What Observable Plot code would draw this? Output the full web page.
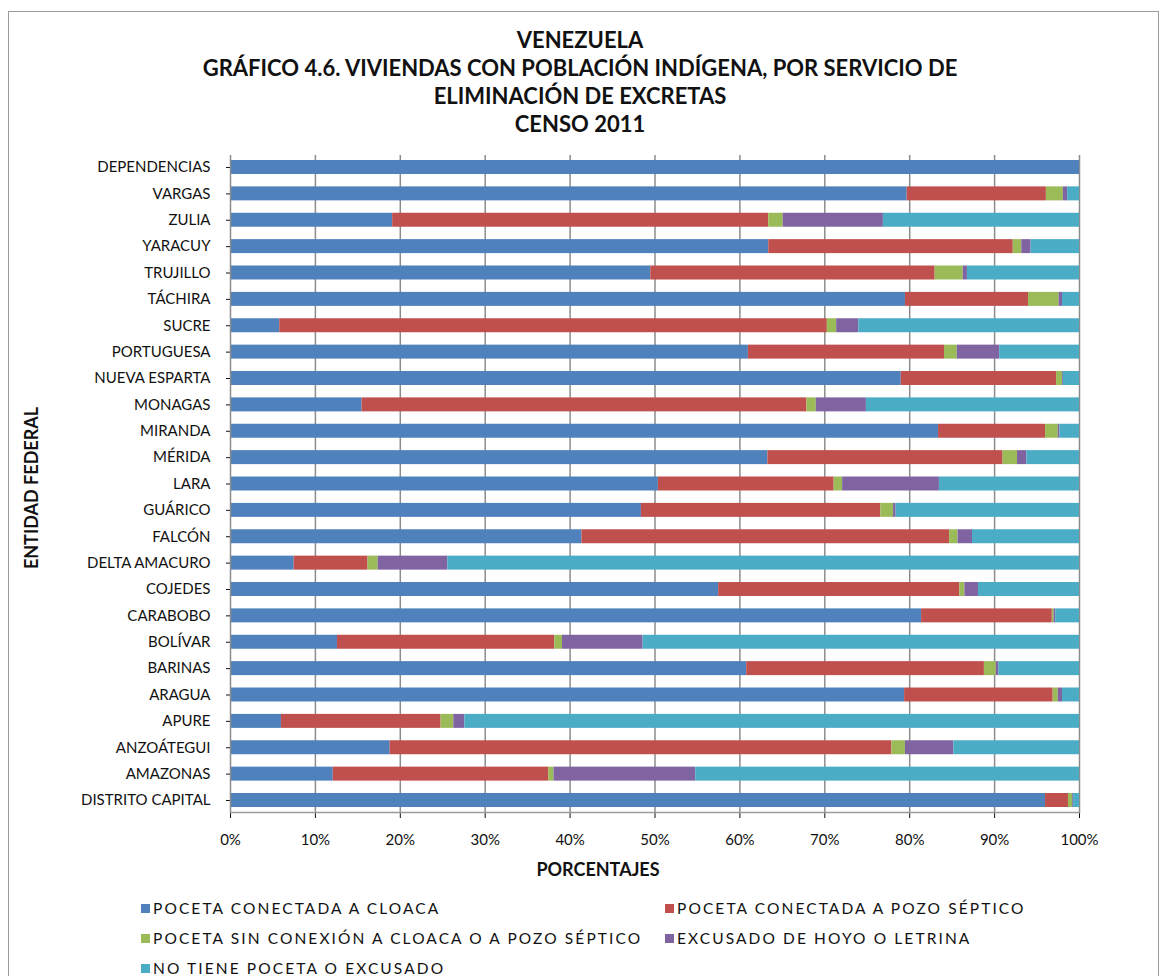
<!DOCTYPE html>
<html>
<head>
<meta charset="utf-8">
<script src="https://cdn.jsdelivr.net/npm/d3@7"></script>
<script src="https://cdn.jsdelivr.net/npm/@observablehq/plot@0.6"></script>
<style>
  html, body { margin: 0; padding: 0; background: #fff; }
  body { width: 1163px; height: 976px; position: relative; overflow: hidden; font-family: Lato, "Open Sans", sans-serif; color: #111; }
  #frame { position: absolute; left: 8px; top: 11px; width: 1151px; height: 1000px; border: 1px solid #9a9a9a; box-sizing: border-box; }
  #title { position: absolute; left: 0; width: 1160px; top: 26px; text-align: center; font-weight: 700; font-size: 22px; line-height: 28px; }
  #chart { position: absolute; left: 0; top: 140px; }
  #ylabel { position: absolute; left: 31px; top: 488px; transform: translate(-50%, -50%) rotate(-90deg); font-weight: 700; font-size: 18px; white-space: nowrap; }
  #xlabel { position: absolute; left: 598px; top: 858px; transform: translateX(-50%); font-weight: 700; font-size: 18px; }
  .leg { position: absolute; font-size: 15.5px; letter-spacing: 2.1px; white-space: nowrap; line-height: 20px; }
  .leg span.sw { display: inline-block; width: 9px; height: 9px; margin-right: 3px; vertical-align: 1px; }
</style>
</head>
<body>
<div id="frame"></div>
<div id="title">VENEZUELA<br>GRÁFICO 4.6. VIVIENDAS CON POBLACIÓN INDÍGENA, POR SERVICIO DE<br>ELIMINACIÓN DE EXCRETAS<br>CENSO 2011</div>
<div id="chart"></div>
<div id="ylabel">ENTIDAD FEDERAL</div>
<div id="xlabel">PORCENTAJES</div>
<div id="legend"></div>
<script>
const states = ["DEPENDENCIAS","VARGAS","ZULIA","YARACUY","TRUJILLO","TÁCHIRA","SUCRE","PORTUGUESA","NUEVA ESPARTA","MONAGAS","MIRANDA","MÉRIDA","LARA","GUÁRICO","FALCÓN","DELTA AMACURO","COJEDES","CARABOBO","BOLÍVAR","BARINAS","ARAGUA","APURE","ANZOÁTEGUI","AMAZONAS","DISTRITO CAPITAL"];
const series = ["POCETA CONECTADA A CLOACA","POCETA CONECTADA A POZO SÉPTICO","POCETA SIN CONEXIÓN A CLOACA O A POZO SÉPTICO","EXCUSADO DE HOYO O LETRINA","NO TIENE POCETA O EXCUSADO"];
const colors = ["#4F81BD","#C0504D","#9BBB59","#8064A2","#4BACC6"];
const cloaca    = [100, 79.7, 19.1, 63.4, 49.5, 79.5,  5.8, 61.0, 79.0, 15.5, 83.4, 63.3, 50.4, 48.4, 41.4,  7.5, 57.5, 81.4, 12.6, 60.8, 79.4,  6.0, 18.8, 12.1, 96.0];
const septico   = [  0, 16.4, 44.3, 28.8, 33.5, 14.5, 64.5, 23.1, 18.3, 52.4, 12.6, 27.7, 20.7, 28.2, 43.3,  8.7, 28.4, 15.4, 25.6, 28.0, 17.5, 18.8, 59.1, 25.4,  2.7];
const sinConex  = [  0,  2.0,  1.7,  1.0,  3.3,  3.6,  1.1,  1.5,  0.7,  1.1,  1.5,  1.7,  1.0,  1.5,  1.0,  1.2,  0.6,  0.2,  0.9,  1.4,  0.6,  1.5,  1.6,  0.6,  0.5];
const letrina   = [  0,  0.5, 11.8,  1.1,  0.5,  0.4,  2.6,  5.0,  0.1,  5.9,  0.2,  1.1, 11.4,  0.3,  1.7,  8.2,  1.6,  0.2,  9.5,  0.3,  0.5,  1.3,  5.7, 16.7,  0.1];
const noTiene   = [  0,  1.4, 23.1,  5.7, 13.2,  2.0, 26.0,  9.4,  1.9, 25.1,  2.3,  6.2, 16.5, 21.6, 12.6, 74.4, 11.9,  2.8, 51.4,  9.5,  2.0, 72.4, 14.8, 45.2,  0.7];
const xTicks = [0,10,20,30,40,50,60,70,80,90,100];

const valueArrays = [cloaca, septico, sinConex, letrina, noTiene];
const data = [];
series.forEach((s, si) => states.forEach((st, i) => data.push({state: st, serie: s, value: valueArrays[si][i]})));
const tickFracs = xTicks.map(d => d / 100);

const chart = Plot.plot({
  width: 1163,
  height: 712,
  marginTop: 15,
  marginBottom: 40,
  marginLeft: 230,
  marginRight: 84,
  style: {fontFamily: "Lato, 'Open Sans', sans-serif", fontSize: "15px", color: "#111", background: "transparent"},
  x: {domain: [0, 1], ticks: tickFracs, tickFormat: d => Math.round(d * 100) + "%", tickSize: 6, tickPadding: 16, label: null},
  y: {domain: states, paddingInner: 0.47, paddingOuter: 0.19, round: false, tickSize: 4, tickPadding: 16, label: null},
  color: {domain: series, range: colors},
  marks: [
    Plot.ruleX(tickFracs.slice(1), {stroke: "#8c8c8c", strokeWidth: 1.5}),
    Plot.frame({anchor: "bottom", stroke: "#9a9a9a", strokeWidth: 1.5}),
    Plot.barX(data, Plot.stackX({x: "value", y: "state", fill: "serie", offset: "normalize", order: series})),
    Plot.ruleX([0], {stroke: "#8c8c8c", strokeWidth: 1.5})
  ]
});
document.getElementById("chart").appendChild(chart);

const legendPos = [[141, 898], [665, 898], [141, 928], [665, 928], [141, 958]];
const legend = document.getElementById("legend");
series.forEach((s, i) => {
  const d = document.createElement("div");
  d.className = "leg";
  d.style.left = legendPos[i][0] + "px";
  d.style.top = legendPos[i][1] + "px";
  d.innerHTML = `<span class="sw" style="background:${colors[i]}"></span>${s}`;
  legend.appendChild(d);
});
</script>
</body>
</html>
